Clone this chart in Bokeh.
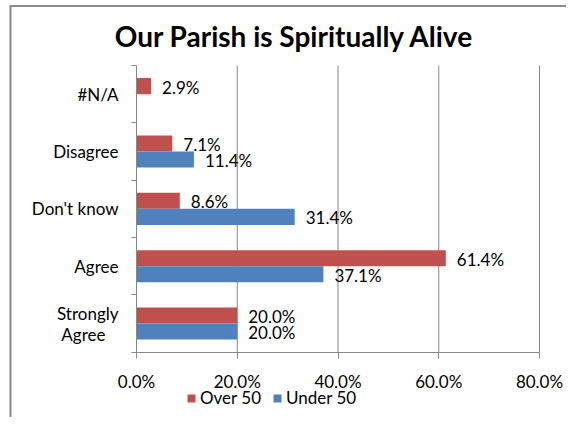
from bokeh.plotting import figure
from bokeh.models import (Range1d, FixedTicker, LinearAxis, Legend, LegendItem,
                          ColumnDataSource, Label)
from bokeh.core.properties import value
from bokeh.embed import file_html
from bokeh.resources import INLINE

# ---- data (bottom to top) ----
categories = ["Strongly\nAgree\u00a0\u00a0\u00a0", "Agree", "Don't know", "Disagree", "#N/A"]
over_50 = [20.0, 61.4, 8.6, 7.1, 2.9]
under_50 = [20.0, 37.1, 31.4, 11.4, None]
x_ticks = [0, 20, 40, 60, 80]
x_tick_labels = ["0.0%", "20.0%", "40.0%", "60.0%", "80.0%"]
series_names = ["Over 50", "Under 50"]
title_text = "Our Parish is Spiritually Alive"

RED = "#C0504D"
BLUE = "#4F81BD"
GRAY = "#868686"
BORDER = "#8c8c8c"
FONT = "Lato"
FS = "17px"
BAR_H = 0.28

# ---- layout (canvas pixels) ----
W, H = 566, 417
X0_PX, XMAX_PX = 136, 539      # x=0 and x=80 positions
Y0_PX, YTOP_PX = 351.7, 65.0   # bottom and top of category area (from top)
XMAX = x_ticks[-1]
NCAT = len(categories)
px_x = (XMAX_PX - X0_PX) / XMAX
px_y = (Y0_PX - YTOP_PX) / NCAT
x_start = -X0_PX / px_x
x_end = XMAX + (W - XMAX_PX) / px_x
y_start = -(H - Y0_PX) / px_y
y_end = NCAT + YTOP_PX / px_y

def dx(px):
    return (px - X0_PX) / px_x

def dy(py):
    return (Y0_PX - py) / px_y

def make_source(vals, shift):
    ys, xs, labels = [], [], []
    for i, v in enumerate(vals):
        if v is None:
            continue
        ys.append(i + 0.5 + shift)
        xs.append(v)
        labels.append(f"{v:.1f}%")
    return ColumnDataSource(dict(y=ys, v=xs, lbl=labels))

src_over = make_source(over_50, BAR_H / 2)
src_under = make_source(under_50, -BAR_H / 2)

p = figure(width=W, height=H, output_backend="svg", toolbar_location=None, title=None,
           x_range=Range1d(x_start, x_end), y_range=Range1d(y_start, y_end),
           x_axis_type=None, y_axis_type=None, min_border=0)
p.outline_line_color = None
p.background_fill_color = "white"
p.border_fill_color = "white"
p.xgrid.visible = False
p.ygrid.visible = False

# chart border (left and top)
p.segment(x0=[dx(10), dx(9)], y0=[dy(5.5), dy(5.5)], x1=[dx(10), x_end], y1=[y_start, dy(5.5)],
          line_color=BORDER, line_width=2)

# vertical gridlines over the category area
p.segment(x0=x_ticks[1:], x1=x_ticks[1:], y0=0, y1=NCAT, line_color=GRAY, line_width=1)

# bars
r_over = p.hbar(y="y", right="v", left=0, height=BAR_H, source=src_over,
                fill_color=RED, line_color=None)
r_under = p.hbar(y="y", right="v", left=0, height=BAR_H, source=src_under,
                 fill_color=BLUE, line_color=None)

# data labels
for src in (src_over, src_under):
    p.text(x="v", y="y", text="lbl", source=src, x_offset=11, y_offset=1,
           text_baseline="middle", text_align="left",
           text_font=value(FONT), text_font_size=FS, text_color="black")

# y axis: labels at category centres, tick marks at category boundaries
y_axis = LinearAxis(
    fixed_location=0, bounds=(0, NCAT),
    ticker=FixedTicker(ticks=[i + 0.5 for i in range(NCAT)],
                       minor_ticks=list(range(NCAT + 1))),
    major_label_overrides={i + 0.5: c for i, c in enumerate(categories)},
    axis_line_color=GRAY, major_tick_out=0, major_tick_in=0,
    minor_tick_out=5, minor_tick_in=0, minor_tick_line_color=GRAY,
    major_label_standoff=13,
    major_label_text_font=FONT, major_label_text_font_size=FS,
    major_label_text_line_height=1.0,
    major_label_text_color="black")
p.add_layout(y_axis, "left")

x_axis = LinearAxis(
    fixed_location=0, bounds=(0, XMAX),
    ticker=FixedTicker(ticks=x_ticks, minor_ticks=[]),
    major_label_overrides={t: l for t, l in zip(x_ticks, x_tick_labels)},
    axis_line_color=GRAY, major_tick_out=6, major_tick_in=0,
    major_tick_line_color=GRAY, minor_tick_out=0, minor_tick_in=0,
    major_label_standoff=13,
    major_label_text_font=FONT, major_label_text_font_size=FS,
    major_label_text_color="black")
p.add_layout(x_axis, "below")

# title
p.add_layout(Label(x=dx(294), y=dy(35.3),
                   text=title_text, text_align="center", text_baseline="alphabetic",
                   text_font=FONT, text_font_style="bold", text_font_size="28px",
                   text_color="black"))

# legend
legend = Legend(items=[LegendItem(label=series_names[0], renderers=[r_over]),
                       LegendItem(label=series_names[1], renderers=[r_under])],
                location=(186, 9), orientation="horizontal",
                glyph_width=10, glyph_height=10, label_height=10, label_standoff=4,
                spacing=11, padding=0, margin=0,
                border_line_color=None, background_fill_alpha=0,
                label_text_font=FONT, label_text_font_size=FS,
                label_text_color="black", label_text_baseline="middle")
p.add_layout(legend, "center")

open("out.html", "w").write(file_html(p, INLINE))
